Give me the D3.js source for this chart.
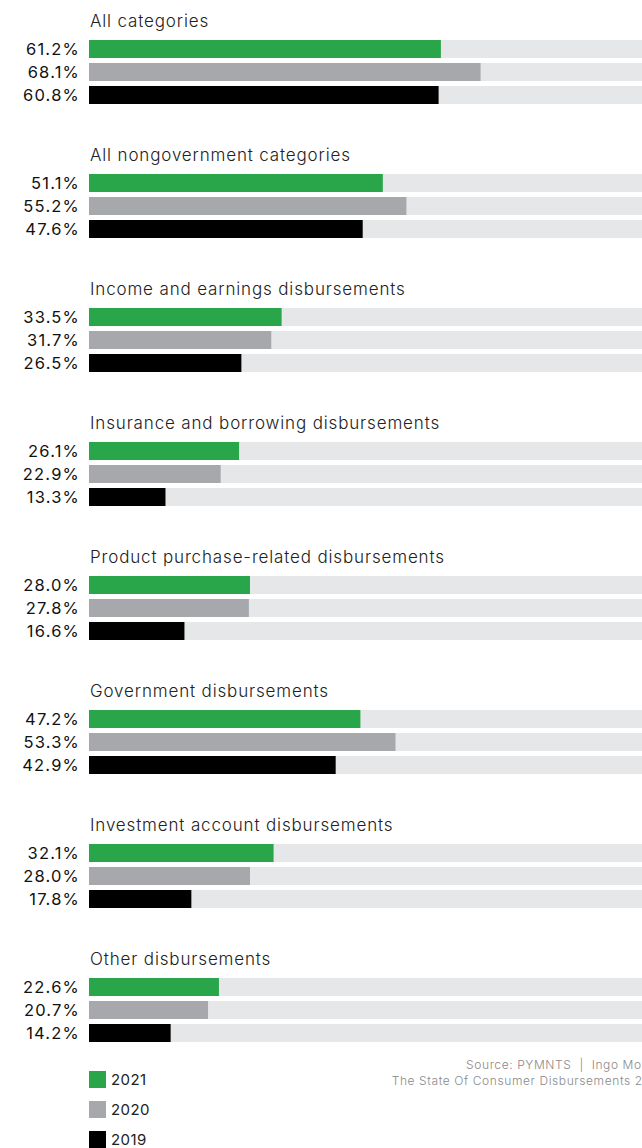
<!DOCTYPE html>
<html>
<head>
<meta charset="utf-8">
<script src="https://cdn.jsdelivr.net/npm/d3@7"></script>
<style>
  body { margin: 0; background: #fff; overflow: hidden; }
  text { font-family: "Inter", "Open Sans", sans-serif; }
</style>
</head>
<body>
<script>
// 차트 데이터
const categories = [
  "All categories",
  "All nongovernment categories",
  "Income and earnings disbursements",
  "Insurance and borrowing disbursements",
  "Product purchase-related disbursements",
  "Government disbursements",
  "Investment account disbursements",
  "Other disbursements"
];
const years = ["2021", "2020", "2019"];
const values2021 = [61.2, 51.1, 33.5, 26.1, 28.0, 47.2, 32.1, 22.6];
const values2020 = [68.1, 55.2, 31.7, 22.9, 27.8, 53.3, 28.0, 20.7];
const values2019 = [60.8, 47.6, 26.5, 13.3, 16.6, 42.9, 17.8, 14.2];
const sourceLines = ["Source: PYMNTS  |  Ingo Money", "The State Of Consumer Disbursements 2021"];

const width = 642, height = 1148;
const colors = { "2021": "#2aa64a", "2020": "#a7a8ab", "2019": "#000000" };
const series = { "2021": values2021, "2020": values2020, "2019": values2019 };

const svg = d3.select("body").append("svg")
  .attr("width", width)
  .attr("height", height);

// 0~100% 스케일 (배경 막대가 오른쪽에서 잘림)
const x = d3.scaleLinear().domain([0, 100]).range([89, 664]);

// 그룹 위치
const groupY = d3.scaleBand()
  .domain(categories)
  .range([40, 40 + 134 * categories.length])
  .paddingInner(0);

const rowY = d3.scaleBand()
  .domain(years)
  .range([0, 64])
  .paddingInner(5 / 23);

const groups = svg.selectAll("g.group")
  .data(categories)
  .join("g")
  .attr("class", "group")
  .attr("transform", d => `translate(0,${groupY(d)})`);

groups.append("text")
  .attr("x", 90)
  .attr("y", -13)
  .attr("font-size", 17)
  .attr("font-weight", 300)
  .attr("letter-spacing", 0.85)
  .attr("fill", "#222")
  .text(d => d);

groups.each(function(cat, i) {
  const g = d3.select(this);
  const rows = years.map(yr => ({ yr, v: series[yr][i] }));

  g.selectAll("rect.bg")
    .data(rows)
    .join("rect")
    .attr("class", "bg")
    .attr("x", x(0))
    .attr("y", d => rowY(d.yr))
    .attr("width", x(100) - x(0))
    .attr("height", rowY.bandwidth())
    .attr("fill", "#e6e7e8");

  g.selectAll("rect.val")
    .data(rows)
    .join("rect")
    .attr("class", "val")
    .attr("x", x(0))
    .attr("y", d => rowY(d.yr))
    .attr("width", d => x(d.v) - x(0))
    .attr("height", rowY.bandwidth())
    .attr("fill", d => colors[d.yr]);

  g.selectAll("text.lbl")
    .data(rows)
    .join("text")
    .attr("class", "lbl")
    .attr("x", 80)
    .attr("y", d => rowY(d.yr) + rowY.bandwidth() / 2)
    .attr("dy", "0.36em")
    .attr("text-anchor", "end")
    .attr("font-size", 16.5)
    .attr("letter-spacing", 1.2)
    .attr("fill", "#111")
    .text(d => d.v.toFixed(1) + "%");
});

// 범례
const legend = svg.selectAll("g.legend")
  .data(years)
  .join("g")
  .attr("class", "legend")
  .attr("transform", (d, i) => `translate(89,${1071 + i * 30})`);

legend.append("rect")
  .attr("width", 17)
  .attr("height", 17)
  .attr("fill", d => colors[d]);

legend.append("text")
  .attr("x", 22)
  .attr("y", 9)
  .attr("dy", "0.36em")
  .attr("font-size", 15)
  .attr("letter-spacing", 0.4)
  .attr("fill", "#222")
  .text(d => d);

// 출처
svg.selectAll("text.source")
  .data(sourceLines)
  .join("text")
  .attr("class", "source")
  .attr("x", 664)
  .attr("y", (d, i) => 1069 + i * 16)
  .attr("text-anchor", "end")
  .attr("font-size", 12)
  .attr("font-weight", 300)
  .attr("letter-spacing", 0.6)
  .attr("fill", "#8a8a8a")
  .style("white-space", "pre")
  .text(d => d);
</script>
</body>
</html>
